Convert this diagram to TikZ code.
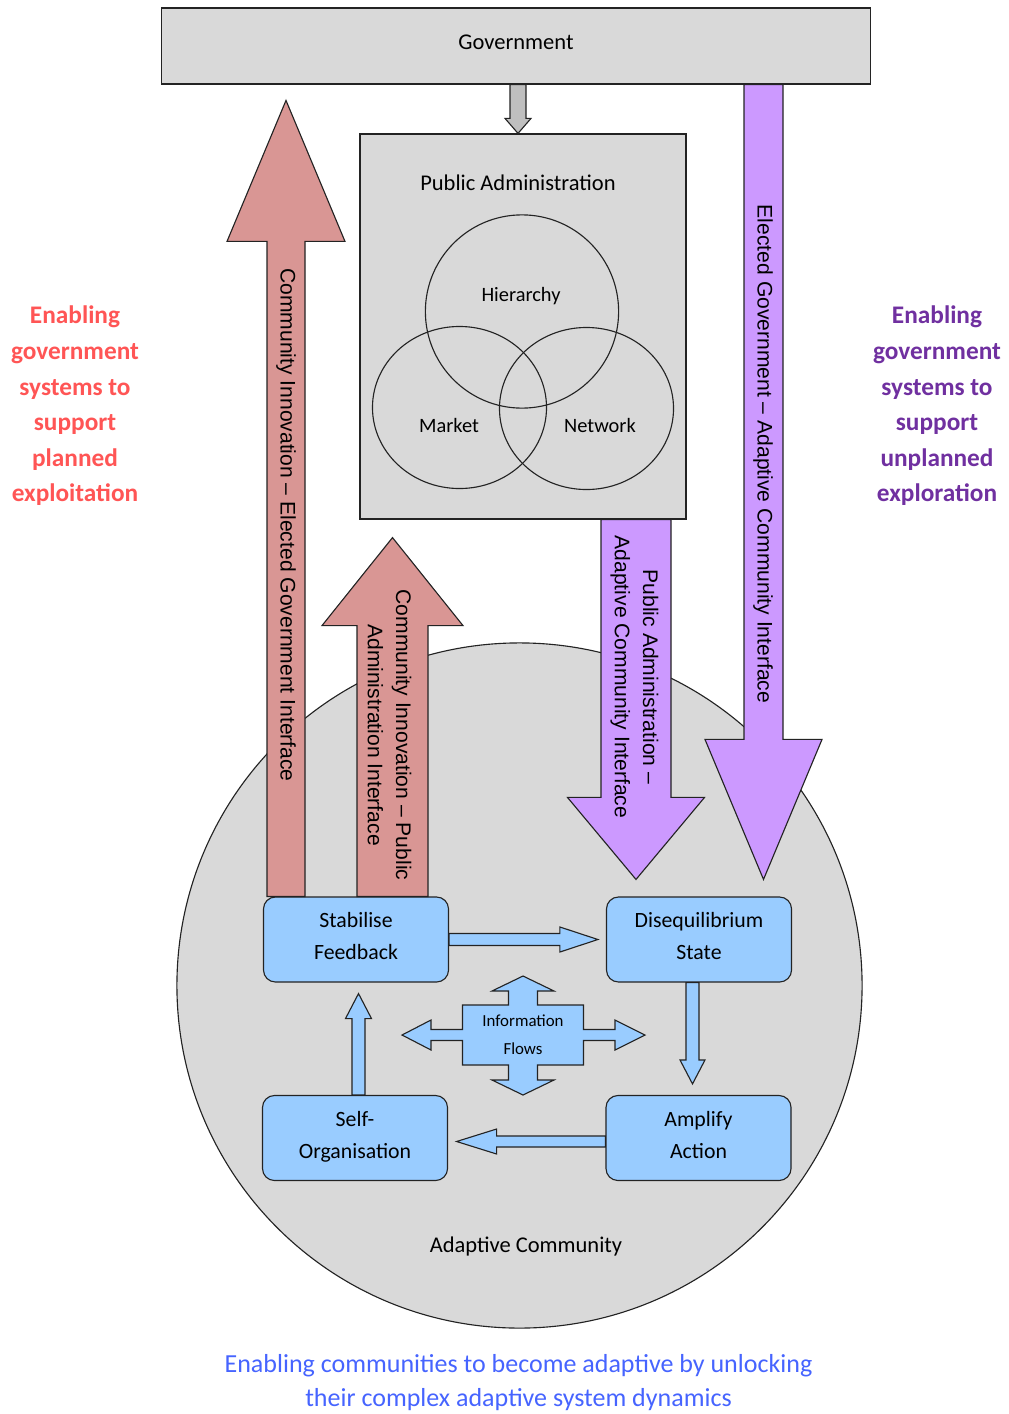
\documentclass[tikz,border=0pt]{standalone}
\usepackage{fontspec}
\setmainfont{Carlito}
\newfontfamily\arrowfont{Liberation Sans}
\usetikzlibrary{calc,shapes.geometric}

\definecolor{panelgray}{RGB}{217,217,217}
\definecolor{arrowgray}{RGB}{191,191,191}
\definecolor{innovred}{RGB}{217,150,148}
\definecolor{adaptpurple}{RGB}{204,153,255}
\definecolor{cycleblue}{RGB}{153,204,255}
\definecolor{textred}{RGB}{255,85,85}
\definecolor{textpurple}{RGB}{112,48,160}
\definecolor{textblue}{RGB}{70,100,255}
\definecolor{edge}{RGB}{35,35,35}

% Block arrow from a tail coordinate to a tip coordinate.
% #1 style, #2 tail, #3 tip, #4 shaft half-width, #5 head half-width, #6 head length (all in px)
\newcommand\blockarrow[6]{%
  \pgfmathsetmacro\baW{#4*0.025}%
  \pgfmathsetmacro\baH{#5*0.025}%
  \pgfmathsetmacro\baL{#6*0.025}%
  \coordinate (ba-base) at ($(#3)!\baL cm!(#2)$);
  \draw[#1] ($(#2)!\baW cm!90:(#3)$) -- ($(ba-base)!\baW cm!90:(#3)$)
    -- ($(ba-base)!\baH cm!90:(#3)$) -- (#3)
    -- ($(ba-base)!\baH cm!-90:(#3)$) -- ($(ba-base)!\baW cm!-90:(#3)$)
    -- ($(#2)!\baW cm!-90:(#3)$) -- cycle;
}

\begin{document}
\begin{tikzpicture}[x=0.025cm, y=-0.025cm,
  outline/.style={draw=edge, line width=0.8pt},
  panel/.style={outline, fill=panelgray, rectangle, inner sep=0pt},
  cyclebox/.style={outline, fill=cycleblue, rounded corners=0.3cm,
    minimum width=4.625cm, minimum height=2.125cm, align=center,
    inner sep=0pt, font=\fontsize{15.5}{22.8}\selectfont},
  vennring/.style={draw=edge, line width=0.8pt, inner sep=0pt},
  redarrow/.style={outline, fill=innovred},
  purplearrow/.style={outline, fill=adaptpurple},
  bluearrow/.style={outline, fill=cycleblue},
  greyarrow/.style={outline, fill=arrowgray},
  arrowlabel/.style={rotate=-90, align=center, inner sep=0pt,
    font=\arrowfont\fontsize{15}{20}\selectfont},
  caption/.style={inner sep=0pt, font=\fontsize{16}{19}\selectfont},
  vennlabel/.style={inner sep=0pt, font=\fontsize{14.5}{17}\selectfont},
  sidenote/.style={align=center, inner sep=0pt, font=\bfseries\fontsize{18}{25.3}\selectfont},
]
\useasboundingbox (0,0) rectangle (1008,1414);

% Adaptive community disc
\node[outline, fill=panelgray, circle, minimum size=17.125cm, inner sep=0pt]
  (community) at (519.5,985.5) {};
\node[caption] (communitylabel) at (526,1246) {Adaptive Community};

% Government and public administration panels
\node[panel, minimum width=17.7cm, minimum height=1.9cm] (gov) at (516,46) {};
\node[caption] (govlabel) at (516,42) {Government};
\node[panel, minimum width=8.15cm, minimum height=9.625cm] (pa) at (523,326.5) {};
\node[caption] (palabel) at (518,183) {Public Administration};

% Governance modes
\node[vennring, circle, minimum size=4.83cm] (hier) at (522,311.5) {};
\node[vennring, ellipse, minimum width=4.35cm, minimum height=4.05cm] (market) at (459.5,407.5) {};
\node[vennring, ellipse, minimum width=4.35cm, minimum height=4.05cm] (network) at (586.5,408.5) {};
\node[vennlabel] (hierlabel) at (521,296) {Hierarchy};
\node[vennlabel] (marketlabel) at (449,425) {Market};
\node[vennlabel] (networklabel) at (600,425) {Network};

% Adaptive cycle boxes (text raised slightly inside each box)
\node[cyclebox] (stab) at (356,939.5) {Stabilise\\Feedback\\[-18pt]};
\node[cyclebox] (diseq) at (699,939.5) {Disequilibrium\\State\\[-18pt]};
\node[cyclebox] (selforg) at (355,1138) {Self-\\Organisation\\[-18pt]};
\node[cyclebox] (ampl) at (698.5,1138) {Amplify\\Action\\[-18pt]};

% Interface arrows between the community and government
\coordinate (g2pTail) at ($(gov.south)+(2,0)$);
\coordinate (g2pTip) at ($(pa.north)+(-5,0)$);
\blockarrow{greyarrow}{g2pTail}{g2pTip}{8}{13}{15}

\coordinate (r1Tail) at ($(stab.north)+(-70,0)$);
\coordinate (r1Tip) at ($(r1Tail)+(0,-796)$);
\blockarrow{redarrow}{r1Tail}{r1Tip}{19}{59}{141}

\coordinate (r2Tail) at ($(stab.north)+(36.5,0)$);
\coordinate (r2Tip) at ($(pa.south)+(-130.5,18)$);
\blockarrow{redarrow}{r2Tail}{r2Tip}{35.5}{70.5}{88}

\coordinate (p1Tail) at ($(pa.south)+(113,0)$);
\coordinate (p1Tip) at ($(diseq.north)+(-63,-17)$);
\blockarrow{purplearrow}{p1Tail}{p1Tip}{35}{68.5}{82}

\coordinate (p2Tail) at ($(gov.south)+(247.5,0)$);
\coordinate (p2Tip) at ($(diseq.north)+(64.5,-17)$);
\blockarrow{purplearrow}{p2Tail}{p2Tip}{19.5}{58.5}{140}

\node[arrowlabel] (r1label) at (286,525)
  {Community Innovation – Elected Government Interface};
\node[arrowlabel] (r2label) at (389.5,735)
  {Community Innovation – Public\\Administration Interface};
\node[arrowlabel] (p1label) at (634.5,677)
  {Public Administration –\\Adaptive Community Interface};
\node[arrowlabel] (p2label) at (763,454)
  {Elected Government – Adaptive Community Interface};

% Adaptive cycle arrows
\coordinate (c1Tail) at (stab.east);
\coordinate (c1Tip) at ($(diseq.west)+(-8,0)$);
\blockarrow{bluearrow}{c1Tail}{c1Tip}{6}{12.5}{38}

\coordinate (c2Tail) at ($(diseq.south)+(-6.5,0)$);
\coordinate (c2Tip) at ($(ampl.north)+(-6,-11)$);
\blockarrow{bluearrow}{c2Tail}{c2Tip}{6.5}{12.5}{24}

\coordinate (c3Tail) at ($(ampl.west)+(0,3.5)$);
\coordinate (c3Tip) at ($(selforg.east)+(8.5,3.5)$);
\blockarrow{bluearrow}{c3Tail}{c3Tip}{5.5}{12.5}{40}

\coordinate (c4Tail) at ($(selforg.north)+(3.5,0)$);
\coordinate (c4Tip) at ($(stab.south)+(2.5,11)$);
\blockarrow{bluearrow}{c4Tail}{c4Tip}{6.5}{13}{25}

% Information flows: four-way block arrow
\coordinate (infoc) at (523,1035);
\draw[bluearrow, shift={(infoc)}]
  (0,-59) -- (31,-44) -- (14.5,-44) -- (14.5,-30) -- (60.5,-30) -- (60.5,-5.5)
  -- (92,-5.5) -- (92,-15) -- (122,0) -- (92,15) -- (92,5.5) -- (60.5,5.5)
  -- (60.5,30) -- (14.5,30) -- (14.5,45) -- (31,45) -- (0,60) -- (-31,45)
  -- (-14.5,45) -- (-14.5,30) -- (-60.5,30) -- (-60.5,5.5) -- (-92,5.5)
  -- (-92,15) -- (-121,0) -- (-92,-15) -- (-92,-5.5) -- (-60.5,-5.5)
  -- (-60.5,-30) -- (-14.5,-30) -- (-14.5,-44) -- (-31,-44) -- cycle;
\node[align=center, inner sep=0pt, font=\fontsize{12}{20}\selectfont]
  (info) at (infoc) {Information\\Flows};

% Side and bottom notes
\node[sidenote, text=textred] (leftnote) at (75,406)
  {Enabling\\government\\systems to\\support\\planned\\exploitation};
\node[sidenote, text=textpurple] (rightnote) at (937,406)
  {Enabling\\government\\systems to\\support\\unplanned\\exploration};
\node[align=center, inner sep=0pt, text=textblue, font=\fontsize{18.5}{24.2}\selectfont]
  (bottomnote) at (518.5,1383)
  {Enabling communities to become adaptive by unlocking\\their complex adaptive system dynamics};
\end{tikzpicture}
\end{document}
